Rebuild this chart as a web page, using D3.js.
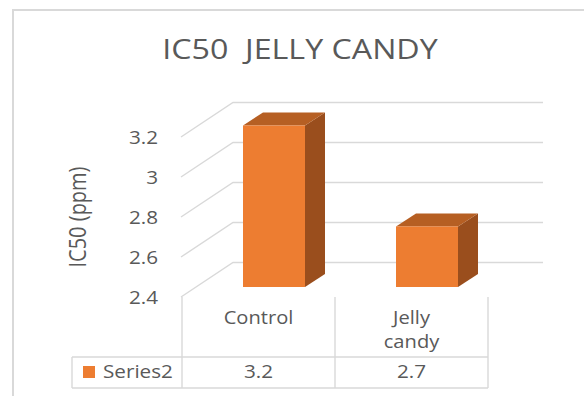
<!DOCTYPE html>
<html>
<head>
<meta charset="utf-8">
<script src="https://cdn.jsdelivr.net/npm/d3@7"></script>
<style>
  html, body { margin: 0; padding: 0; background: #ffffff; }
  svg { display: block; }
  text { font-family: "Open Sans", "Noto Sans", sans-serif; fill: #595959; white-space: pre; }
</style>
</head>
<body>
<script>
// ---- data ----
const chartTitle = "IC50  JELLY CANDY";
const yAxisTitle = "IC50 (ppm)";
const seriesName = "Series2";
const categories = ["Control", "Jelly candy"];
const categoryLines = [["Control"], ["Jelly", "candy"]];
const values = [3.2, 2.7];
const valueLabels = ["3.2", "2.7"];
const yTicks = [2.4, 2.6, 2.8, 3.0, 3.2];
const yTickLabels = ["2.4", "2.6", "2.8", "3", "3.2"];

// ---- layout ----
const W = 584, H = 396;
const SX = 1.15;              // horizontal stretch of the text
const gridColor = "#d9d9d9";
const front = "#ED7D31", topC = "#B65F23", sideC = "#9A4E1D";

const svg = d3.select("body").append("svg").attr("width", W).attr("height", H);

// chart border (top + left)
svg.append("line").attr("x1", 13).attr("y1", 10).attr("x2", W).attr("y2", 10)
  .attr("stroke", gridColor).attr("stroke-width", 2);
svg.append("line").attr("x1", 13).attr("y1", 9).attr("x2", 13).attr("y2", H)
  .attr("stroke", gridColor).attr("stroke-width", 2);

function stretchedText(x, y, str, size, anchor, rotate) {
  const g = svg.append("g").attr("transform",
    `translate(${x},${y}) scale(${SX},1)` + (rotate ? ` rotate(${rotate})` : ""));
  return g.append("text").attr("x", 0).attr("y", 0)
    .attr("xml:space", "preserve")
    .attr("text-anchor", anchor).style("font-size", size + "px").text(str);
}

// title
stretchedText(300, 59, chartTitle, 28, "middle");

// scales
const x = d3.scaleBand().domain(categories).range([182, 488]).paddingInner(0).paddingOuter(0);
const yFront = d3.scaleLinear().domain([2.4, 3.2]).range([297, 137]);
const yBar = d3.scaleLinear().domain([2.4, 3.2]).range([287, 125.5]);

const depth = { dx: 52, dy: 34.5 };      // wall depth
const barOff = { dx: 15.5, dy: 10 };     // bar front plane offset
const barDepth = { dx: 20, dy: 13 };
const barW = 62;
const backRight = 543;

// gridlines: side wall diagonals and back wall horizontals
const grid = svg.append("g").attr("stroke", gridColor).attr("stroke-width", 1.4).attr("fill", "none");
yTicks.forEach(t => {
  const yf = yFront(t);
  const x0 = 181;
  grid.append("path").attr("d",
    `M${x0},${yf} L${x0 + depth.dx},${yf - depth.dy} L${backRight},${yf - depth.dy}`);
});

// tick labels
yTicks.forEach((t, i) => {
  stretchedText(158, yFront(t) + 6.5, yTickLabels[i], 18, "end");
});

// y axis title
stretchedText(86, 217, yAxisTitle, 20, "middle", -90);

// bars
const bars = svg.append("g");
categories.forEach((c, i) => {
  const cx = x(c) + x.bandwidth() / 2 + barOff.dx;
  const x0 = cx - barW / 2, x1 = cx + barW / 2;
  const yt = yBar(values[i]), yb = yBar(2.4);
  const dx = barDepth.dx, dy = barDepth.dy;
  bars.append("path").attr("fill", sideC)
    .attr("d", `M${x1},${yt} L${x1 + dx},${yt - dy} L${x1 + dx},${yb - dy} L${x1},${yb} Z`);
  bars.append("path").attr("fill", topC)
    .attr("d", `M${x0},${yt} L${x1},${yt} L${x1 + dx},${yt - dy} L${x0 + dx},${yt - dy} Z`);
  bars.append("rect").attr("fill", front)
    .attr("x", x0).attr("y", yt).attr("width", barW).attr("height", yb - yt);
});

// data table
const tbl = svg.append("g").attr("stroke", gridColor).attr("stroke-width", 1.4);
const tableTop = yFront(2.4), rowY = 357, tableBottom = 388, legendLeft = 72;
const colEdges = [x.range()[0]].concat(categories.map(c => x(c) + x.bandwidth()));
colEdges.forEach(ex => {
  tbl.append("line").attr("x1", ex).attr("x2", ex).attr("y1", tableTop).attr("y2", tableBottom);
});
tbl.append("line").attr("x1", legendLeft).attr("x2", legendLeft).attr("y1", rowY).attr("y2", tableBottom);
[rowY, tableBottom].forEach(yy => {
  tbl.append("line").attr("x1", legendLeft).attr("x2", x.range()[1]).attr("y1", yy).attr("y2", yy);
});

categories.forEach((c, i) => {
  const cx = x(c) + x.bandwidth() / 2;
  categoryLines[i].forEach((ln, j) => {
    stretchedText(cx, 324 + j * 24, ln, 17.5, "middle");
  });
  stretchedText(cx, 378, valueLabels[i], 18, "middle");
});

// legend key
svg.append("rect").attr("x", 83).attr("y", 366).attr("width", 12).attr("height", 12).attr("fill", front);
stretchedText(103, 377.5, seriesName, 18, "start");
</script>
</body>
</html>
